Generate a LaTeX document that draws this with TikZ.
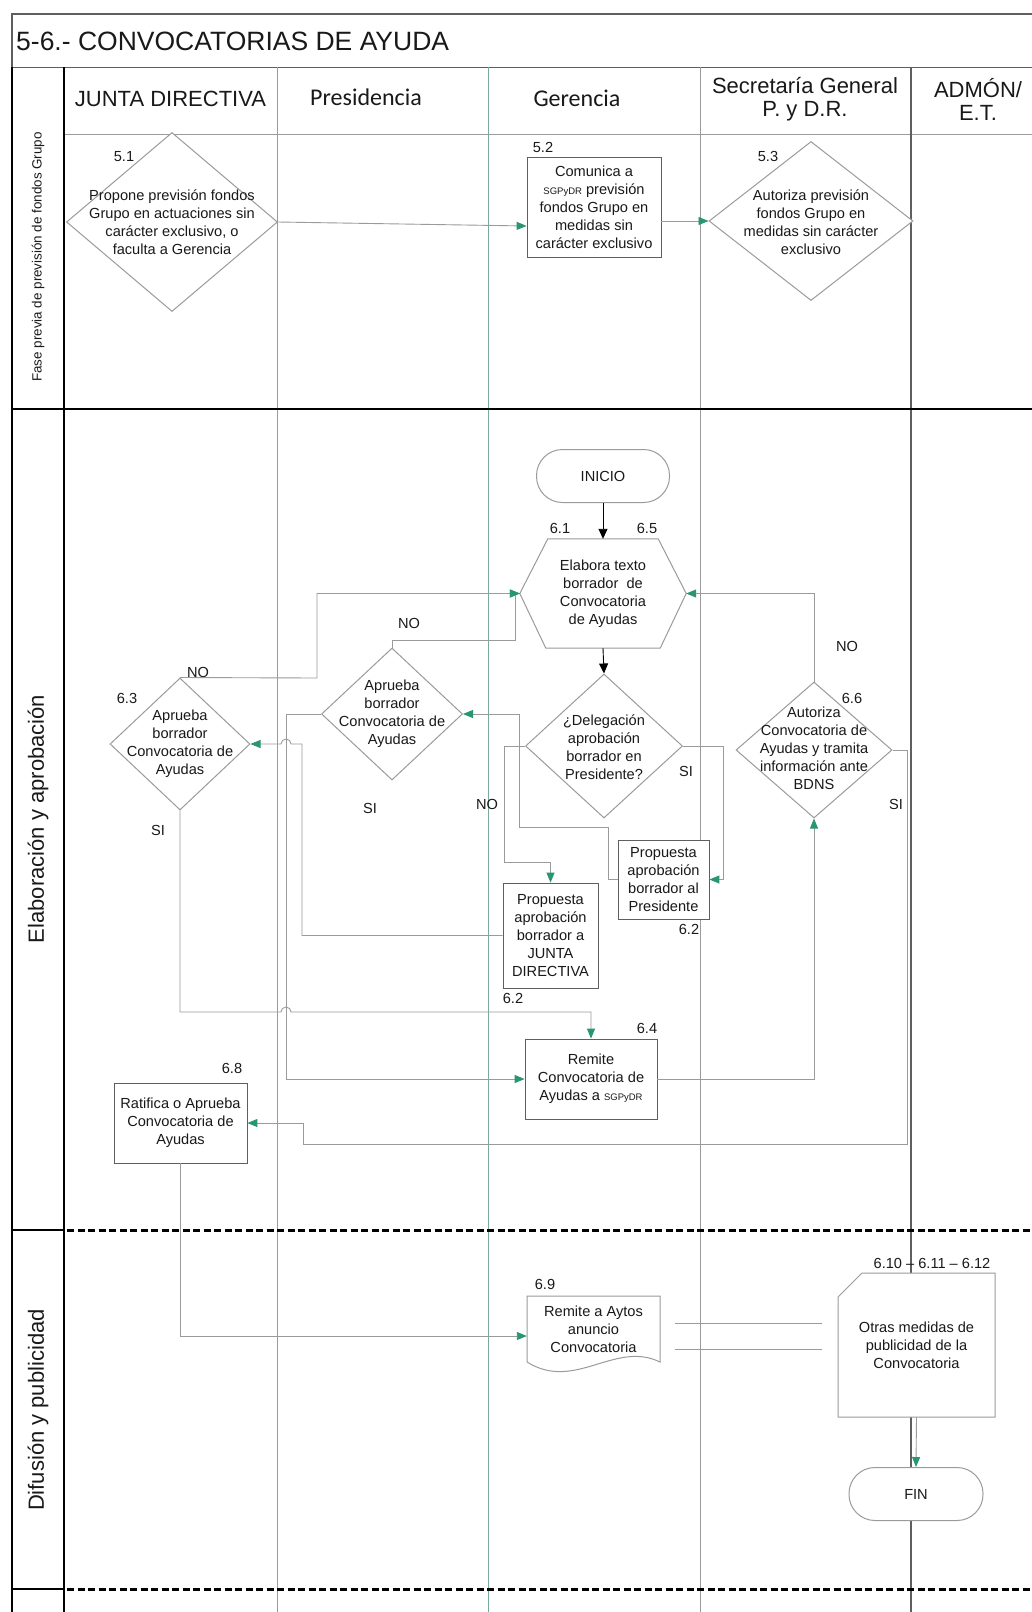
\documentclass[tikz,border=0pt]{standalone}
\usepackage{fontspec}
\setmainfont{Liberation Sans}
\newfontfamily\calib{Carlito}
\usetikzlibrary{arrows.meta,calc,shapes.geometric}

\definecolor{agreen}{RGB}{40,150,110}
\definecolor{lgray}{RGB}{155,155,155}
\definecolor{dgray}{RGB}{95,95,95}
\definecolor{tealgray}{RGB}{120,170,160}
\definecolor{txt}{RGB}{25,25,25}

\begin{document}
\begin{tikzpicture}[x=1pt,y=-1pt,
  every node/.style={font=\fontsize{14.6}{18}\selectfont, text=txt},
  conn/.style={draw=lgray, line width=0.9pt},
  arr/.style={conn, -{Triangle[length=10pt,width=8pt,color=agreen]}},
  barr/.style={draw=black, line width=0.9pt, -{Triangle[length=10pt,width=9pt]}},
  dia/.style={diamond, draw=lgray, line width=1pt, fill=white, inner sep=0pt},
  dtext/.style={align=center, inner sep=0pt},
  box/.style={rectangle, draw=dgray, line width=0.8pt, fill=white, inner sep=0pt, align=center},
  term/.style={rectangle, rounded corners=26pt, draw=lgray, line width=1pt, fill=white, align=center},
  lbl/.style={inner sep=0pt},
  lane/.style={draw=lgray, line width=0.8pt},
  hdr/.style={font=\fontsize{22}{23}\selectfont, align=center},
  phase/.style={rotate=90, inner sep=0pt},
]
\useasboundingbox (0,0) rectangle (1031,1612);
\fill[white] (0,0) rectangle (1031,1612);

% ---------- frame ----------
\draw[dgray, line width=1.2pt] (1045,14) -- (12,14) -- (12,67);
\draw[dgray, line width=1pt] (12,67) -- (1045,67);
\draw[lane] (64,134) -- (1045,134);
\draw[lane] (277,67) -- (277,1612);
\draw[draw=tealgray, line width=0.9pt] (488,67) -- (488,1612);
\draw[lane] (700,67) -- (700,1612);
\draw[draw=dgray, line width=1.1pt] (911,67) -- (911,1612);
\draw[black, line width=2pt] (12,409) -- (1045,409);
\draw[black, line width=2pt] (12,1230) -- (64,1230);
\draw[black, line width=3pt, dash pattern=on 7pt off 3.5pt] (67,1230) -- (1045,1230);
\draw[black, line width=2pt] (12,1589) -- (64,1589);
\draw[black, line width=3pt, dash pattern=on 7pt off 3.5pt] (67,1589) -- (1045,1589);
\draw[black, line width=1.8pt] (12,67) -- (12,1612);
\draw[black, line width=1.8pt] (64,67) -- (64,1612);

% ---------- title and headers ----------
\node[anchor=west, inner sep=0pt, font=\fontsize{26.5}{30}\selectfont] (title) at (16,41) {5-6.- CONVOCATORIAS DE AYUDA};
\node[hdr] (hJD) at (170.5,99) {JUNTA DIRECTIVA};
\node[font=\calib\fontsize{24}{26}\selectfont] (hPre) at (366,97) {Presidencia};
\node[font=\calib\fontsize{24}{26}\selectfont] (hGer) at (577,98) {Gerencia};
\node[hdr] (hSec) at (805,99.5) {Secretaría General\\P. y D.R.};
\node[hdr] (hAdm) at (978,99.5) {ADMÓN/\\E.T.};

\node[phase, font=\fontsize{13.4}{16}\selectfont] (ph1) at (38,257) {Fase previa de previsión de fondos Grupo};
\node[phase, font=\fontsize{22}{24}\selectfont] (ph2) at (38,819) {Elaboración y aprobación};
\node[phase, font=\fontsize{22}{24}\selectfont] (ph3) at (38,1410) {Difusión y publicidad};

% ---------- phase 1 ----------
\node[dia, minimum width=211pt, minimum height=179pt] (d51) at (172,222) {};
\node[dtext] (t51) at (172,222) {Propone previsión fondos\\Grupo en actuaciones sin\\carácter exclusivo, o\\faculta a Gerencia};
\node[lbl] (l51) at (124,157) {5.1};

\node[box, minimum width=134pt, minimum height=100pt] (b52) at (594,207) {Comunica a\\{\fontsize{9.5}{18}\selectfont SGPyDR} previsión\\fondos Grupo en\\medidas sin\\carácter exclusivo};
\node[lbl] (l52) at (543,147) {5.2};

\node[dia, minimum width=204pt, minimum height=159pt] (d53) at (811,221) {};
\node[dtext] (t53) at (811,222) {Autoriza previsión\\fondos Grupo en\\medidas sin carácter\\exclusivo};
\node[lbl] (l53) at (768,156) {5.3};

\draw[arr] (d51.east) -- ($(b52.west)+(0,19)$);
\draw[arr] (b52.east |- d53.west) -- (d53.west);

% ---------- phase 2 ----------
\node[term, minimum width=133pt, minimum height=53pt] (ini) at (603,476) {INICIO};

\node[dtext, minimum width=166pt, minimum height=109pt] (hex) at (603,593.5) {Elabora texto\\borrador\ \ de\\Convocatoria\\de Ayudas};
\draw[draw=lgray, line width=1pt] (hex.west) -- ([xshift=28pt]hex.north west) -- ([xshift=-28pt]hex.north east) -- (hex.east) -- ([xshift=-26pt]hex.south east) -- ([xshift=26pt]hex.south west) -- cycle;
\node[lbl] (l61) at (560,528) {6.1};
\node[lbl] (l65) at (647,528) {6.5};

\node[dia, minimum width=157pt, minimum height=144pt] (ddel) at (604,746) {};
\node[dtext] (tdel) at (604,747) {¿Delegación\\aprobación\\borrador en\\Presidente?};

\node[dia, minimum width=141pt, minimum height=132pt] (dpre) at (392,714) {};
\node[dtext] (tpre) at (392,714) {Aprueba\\borrador\\Convocatoria de\\Ayudas};

\node[dia, minimum width=140pt, minimum height=132pt] (d63) at (180,744) {};
\node[dtext] (t63) at (180,744) {Aprueba\\borrador\\Convocatoria de\\Ayudas};
\node[lbl] (l63) at (127,698) {6.3};

\node[dia, minimum width=156pt, minimum height=136pt] (daut) at (814,750) {};
\node[dtext] (taut) at (814,748) {Autoriza\\Convocatoria de\\Ayudas y tramita\\información ante\\BDNS};
\node[lbl] (l66) at (852,698) {6.6};

\node[box, minimum width=91pt, minimum height=79pt] (bpres) at (663.5,879.5) {Propuesta\\aprobación\\borrador al\\Presidente};
\node[lbl] (l62a) at (689,929) {6.2};

\node[box, minimum width=95pt, minimum height=105pt] (bjd) at (550.5,935.5) {Propuesta\\aprobación\\borrador a\\JUNTA\\DIRECTIVA};
\node[lbl] (l62b) at (513,998) {6.2};

\node[box, minimum width=132pt, minimum height=80pt] (rem) at (591,1079) {Remite\\Convocatoria de\\Ayudas a {\fontsize{9.5}{18}\selectfont SGPyDR}};
\node[lbl] (l64) at (647,1028) {6.4};

\node[box, minimum width=133pt, minimum height=80pt] (b68) at (180.5,1123) {Ratifica o Aprueba\\Convocatoria de\\Ayudas};
\node[lbl] (l68) at (232,1068) {6.8};

% branch labels
\node[lbl] (no63) at (198,672) {NO};
\node[lbl] (nopre) at (409,623) {NO};
\node[lbl] (nodel) at (487,804) {NO};
\node[lbl] (sidel) at (686,771) {SI};
\node[lbl] (si63) at (158,830) {SI};
\node[lbl] (sipre) at (370,808) {SI};
\node[lbl] (noaut) at (847,646) {NO};
\node[lbl] (siaut) at (896,804) {SI};

% connectors phase 2
\draw[barr] (ini.south) -- (hex.north);
\draw[barr] (hex.south) -- (ddel.north);
\draw[arr] (d63.north) -- (317,678) |- (hex.west);
\draw[arr] (dpre.north) |- (515,640) |- (hex.west);
\draw[arr] (daut.north) |- (hex.east);
\draw[arr] (ddel.east) -- (723,746) |- (bpres.east);
\draw[arr] (ddel.west) -- ++(-21,0) |- ($(bjd.north)+(0,-20)$) -- (bjd.north);
\draw[arr] (bpres.west) -- (608,879.5) -- (608,827) -- (519,827) |- (dpre.east);
\draw[arr] (dpre.west) -- (286,714) |- (rem.west);
\draw[arr] (bjd.west) -- (302,935.5) -- (302,744) -- (291,744) arc[start angle=0,end angle=180,radius=5pt] -- (d63.east);
\draw[arr] (d63.south) -- (180,1012) -- (281,1012) arc[start angle=180,end angle=0,radius=5pt] -- (591,1012) -- (rem.north);
\draw[arr] (rem.east) -| (daut.south);
\draw[arr] (daut.east) -- (907,750) |- (303,1144) |- (b68.east);

% ---------- phase 3 ----------
\filldraw[draw=lgray, fill=white, line width=1pt] (527,1296) -- (660,1296) -- (660,1362) .. controls (615,1340) and (575,1392) .. (527,1362) -- cycle;
\node[dtext, minimum width=133pt, minimum height=66pt] (doc) at (593.5,1329) {Remite a Aytos\\anuncio\\Convocatoria};
\node[lbl] (l69) at (545,1284) {6.9};

\filldraw[draw=lgray, fill=white, line width=1pt] (838,1297) -- (862,1273) -- (995,1273) -- (995,1417) -- (838,1417) -- cycle;
\node[dtext, minimum width=157pt, minimum height=144pt] (card) at (916.5,1345) {Otras medidas de\\publicidad de la\\Convocatoria};
\node[lbl] (l610) at (932,1263) {6.10 – 6.11 – 6.12};

\node[term, minimum width=134pt, minimum height=53pt] (fin) at (916,1494) {FIN};

\draw[conn] (675,1323) -- (822,1323);
\draw[conn] (675,1349) -- (822,1349);

\draw[arr] (b68.south) |- ($(doc.west)+(0,7)$);
\draw[arr] (card.south) -- (fin.north);

\end{tikzpicture}
\end{document}
